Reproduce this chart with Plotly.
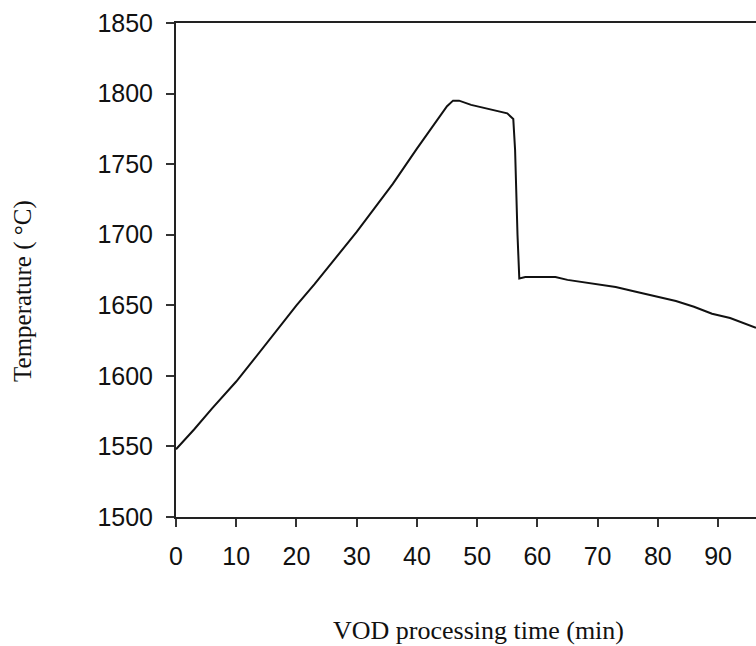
import plotly.graph_objects as go

# VOD processing time (min) and temperature (°C)
time_min = [0, 3, 6, 10, 13, 16, 20, 23, 26, 30, 33, 36, 40, 43, 45, 46, 47,
            49, 51, 53, 55, 56, 56.3, 56.7, 57, 58, 60, 63, 65, 68, 70, 73,
            76, 80, 83, 86, 89, 92, 94, 96.3]
temp_c = [1548, 1562, 1577, 1596, 1612, 1628, 1650, 1665, 1681, 1702, 1719,
          1736, 1761, 1779, 1791, 1795, 1795, 1792, 1790, 1788, 1786, 1782,
          1760, 1700, 1669, 1670, 1670, 1670, 1668, 1666, 1665, 1663, 1660,
          1656, 1653, 1649, 1644, 1641, 1638, 1634]

x_ticks = [0, 10, 20, 30, 40, 50, 60, 70, 80, 90]
y_ticks = [1500, 1550, 1600, 1650, 1700, 1750, 1800, 1850]

fig = go.Figure()
fig.add_trace(go.Scatter(x=time_min, y=temp_c, mode="lines",
                         line=dict(color="#111111", width=2),
                         showlegend=False, hoverinfo="skip"))

tick_font = dict(family="Liberation Sans, Arial, sans-serif", size=25, color="#111111")
title_font_x = dict(family="Liberation Serif, Times New Roman, serif", size=26, color="#111111")
title_font_y = dict(family="Liberation Serif, Times New Roman, serif", size=25, color="#111111")

fig.update_layout(
    width=756, height=646,
    margin=dict(l=176, r=0, t=23, b=129, pad=0),
    paper_bgcolor="white", plot_bgcolor="white",
    xaxis=dict(range=[0, 96.3], tickvals=x_ticks, ticktext=[str(v) for v in x_ticks],
               showgrid=False, zeroline=False, showline=True, linecolor="#222222",
               linewidth=2, mirror=True, ticks="outside", ticklen=8, tickwidth=1.5,
               tickcolor="#333333", tickfont=tick_font, ticklabelstandoff=8),
    yaxis=dict(range=[1500, 1850], tickvals=y_ticks, ticktext=[str(v) for v in y_ticks],
               showgrid=False, zeroline=False, showline=True, linecolor="#222222",
               linewidth=2, ticks="outside", ticklen=8, tickwidth=1.5,
               tickcolor="#333333", tickfont=tick_font, ticklabelstandoff=8),
    annotations=[
        dict(text="VOD processing time (min)", xref="paper", yref="paper",
             x=0.5, y=0, xanchor="center", yanchor="middle", yshift=-113,
             xshift=12, showarrow=False, font=title_font_x),
        dict(text="Temperature ( °C)", xref="paper", yref="paper",
             x=0, y=0.4575, xanchor="center", yanchor="middle", xshift=-153,
             textangle=-90, showarrow=False, font=title_font_y),
    ],
)

fig.write_html("out.html")
